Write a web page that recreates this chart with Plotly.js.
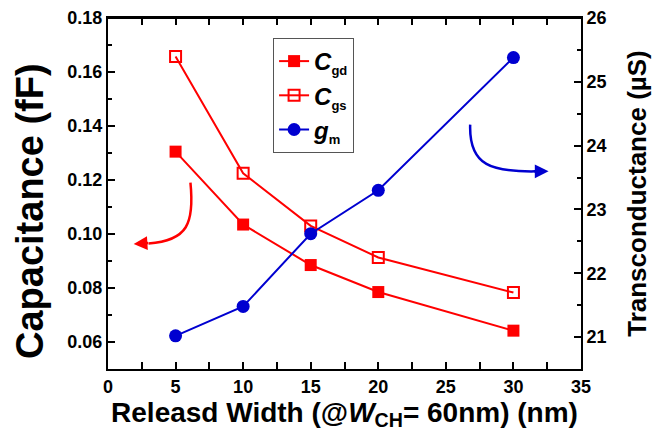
<!DOCTYPE html>
<html>
<head>
<meta charset="utf-8">
<script src="https://cdn.plot.ly/plotly-3.0.1.min.js"></script>
<style>
  html, body { margin: 0; padding: 0; background: #fff; }
  #chart { width: 660px; height: 432px; }
</style>
</head>
<body>
<div id="chart"></div>
<script>
// Released width (nm) at W_CH = 60 nm
const width = [5, 10, 15, 20, 30];
// Gate-drain and gate-source capacitance (fF)
const cgd = [0.1305, 0.1035, 0.0885, 0.0785, 0.0642];
const cgs = [0.1657, 0.1225, 0.1030, 0.0913, 0.0783];
// Transconductance (µS)
const gm = [21.02, 21.48, 22.62, 23.30, 25.38];

const RED = '#ff0000';
const BLUE = '#0000d0';
const FONT = 'Liberation Sans, Arial, sans-serif';

const sub = (s) => '<sub><span style="font-size:13px">' + s + '</span></sub>';

const traces = [
  {
    x: width, y: cgd, name: '<b><i>C</i>' + sub('gd') + '</b>',
    mode: 'lines+markers', yaxis: 'y',
    line: { color: RED, width: 2 },
    marker: { symbol: 'square', size: 12, color: RED, line: { width: 0 } }
  },
  {
    x: width, y: cgs, name: '<b><i>C</i>' + sub('gs') + '</b>',
    mode: 'lines+markers', yaxis: 'y',
    line: { color: RED, width: 2 },
    marker: { symbol: 'square-open', size: 11, color: RED, line: { width: 2 } }
  },
  {
    x: width, y: gm, name: '<b><i>g</i>' + sub('m') + '</b>',
    mode: 'lines+markers', yaxis: 'y2',
    line: { color: BLUE, width: 2 },
    marker: { symbol: 'circle', size: 13, color: BLUE, line: { width: 0 } }
  }
];

const tickFont = { family: FONT, size: 18, color: '#000', weight: 700 };
const minorTicks = (d) => ({ dtick: d, ticks: 'inside', ticklen: 4, tickwidth: 2, tickcolor: '#000' });

const layout = {
  width: 660, height: 432,
  margin: { l: 108, r: 79, t: 18, b: 63 },
  paper_bgcolor: '#fff', plot_bgcolor: '#fff',
  font: { family: FONT, color: '#000' },
  showlegend: true,
  legend: {
    x: 0.349, y: 0.943, xanchor: 'left', yanchor: 'top',
    bordercolor: '#555', borderwidth: 1, bgcolor: '#fff',
    font: { family: FONT, size: 24, color: '#000' },
    itemwidth: 30, tracegroupgap: 0
  },
  xaxis: {
    range: [0, 35], dtick: 5, tick0: 0,
    showgrid: false, zeroline: false,
    showline: true, linecolor: '#000', linewidth: 2, mirror: 'allticks',
    ticks: 'inside', ticklen: 7, tickwidth: 2, tickcolor: '#000',
    minor: minorTicks(2.5),
    tickfont: tickFont, tickprefix: '<b>', ticksuffix: '</b>',
    title: {
      text: '<b>Releasd Width (@<i>W</i><sub>CH</sub>= 60nm) (nm)</b>',
      font: { family: FONT, size: 28, color: '#000' }, standoff: 0
    }
  },
  yaxis: {
    range: [0.05, 0.18], dtick: 0.02, tick0: 0.06, tickformat: '.2f',
    showgrid: false, zeroline: false,
    showline: true, linecolor: '#000', linewidth: 2,
    ticks: 'inside', ticklen: 7, tickwidth: 2, tickcolor: '#000',
    minor: minorTicks(0.01),
    tickfont: tickFont, tickprefix: '<b>', ticksuffix: '</b>'
  },
  yaxis2: {
    overlaying: 'y', side: 'right',
    range: [20.5, 26], dtick: 1, tick0: 21,
    showgrid: false, zeroline: false,
    showline: true, linecolor: '#000', linewidth: 2,
    ticks: 'inside', ticklen: 7, tickwidth: 2, tickcolor: '#000',
    minor: minorTicks(0.5),
    tickfont: tickFont, tickprefix: '<b>', ticksuffix: '</b>',
    title: {
      text: '<b>Transconductance (\u00b5S)</b>',
      font: { family: FONT, size: 26, color: '#000' }, standoff: 22
    }
  },
  shapes: [
    // top edge of the frame
    {
      type: 'line', xref: 'paper', yref: 'paper', x0: 0, x1: 1, y0: 1, y1: 1,
      line: { color: '#000', width: 2 }
    },
    // curved arrow pointing to the capacitance axis
    {
      type: 'path', xref: 'x', yref: 'y',
      path: 'M 6.1,0.1190 C 6.4,0.1040 5.9,0.0975 3.0,0.0965',
      line: { color: RED, width: 2.5 }
    },
    // curved arrow pointing to the transconductance axis
    {
      type: 'path', xref: 'x', yref: 'y',
      path: 'M 26.8,0.1405 C 26.7,0.1250 28.5,0.1230 31.6,0.1232',
      line: { color: BLUE, width: 2.5 }
    }
  ],
  annotations: [
    // left axis title, set slightly below the axis centre
    {
      xref: 'paper', yref: 'paper', x: -0.165, y: 0.45,
      xanchor: 'center', yanchor: 'middle', textangle: -90,
      text: '<b>Capacitance (fF)</b>', showarrow: false,
      font: { family: FONT, size: 38, color: '#000' }
    },
    {
      xref: 'x', yref: 'y', x: 1.9, y: 0.0963, ax: 16, ay: -1,
      text: '', showarrow: true, arrowhead: 2, arrowsize: 1.1,
      arrowwidth: 2.5, arrowcolor: RED
    },
    {
      xref: 'x', yref: 'y', x: 32.6, y: 0.1232, ax: -16, ay: 0,
      text: '', showarrow: true, arrowhead: 2, arrowsize: 1.1,
      arrowwidth: 2.5, arrowcolor: BLUE
    }
  ]
};

Plotly.newPlot('chart', traces, layout, { displayModeBar: false, staticPlot: true });
</script>
</body>
</html>
